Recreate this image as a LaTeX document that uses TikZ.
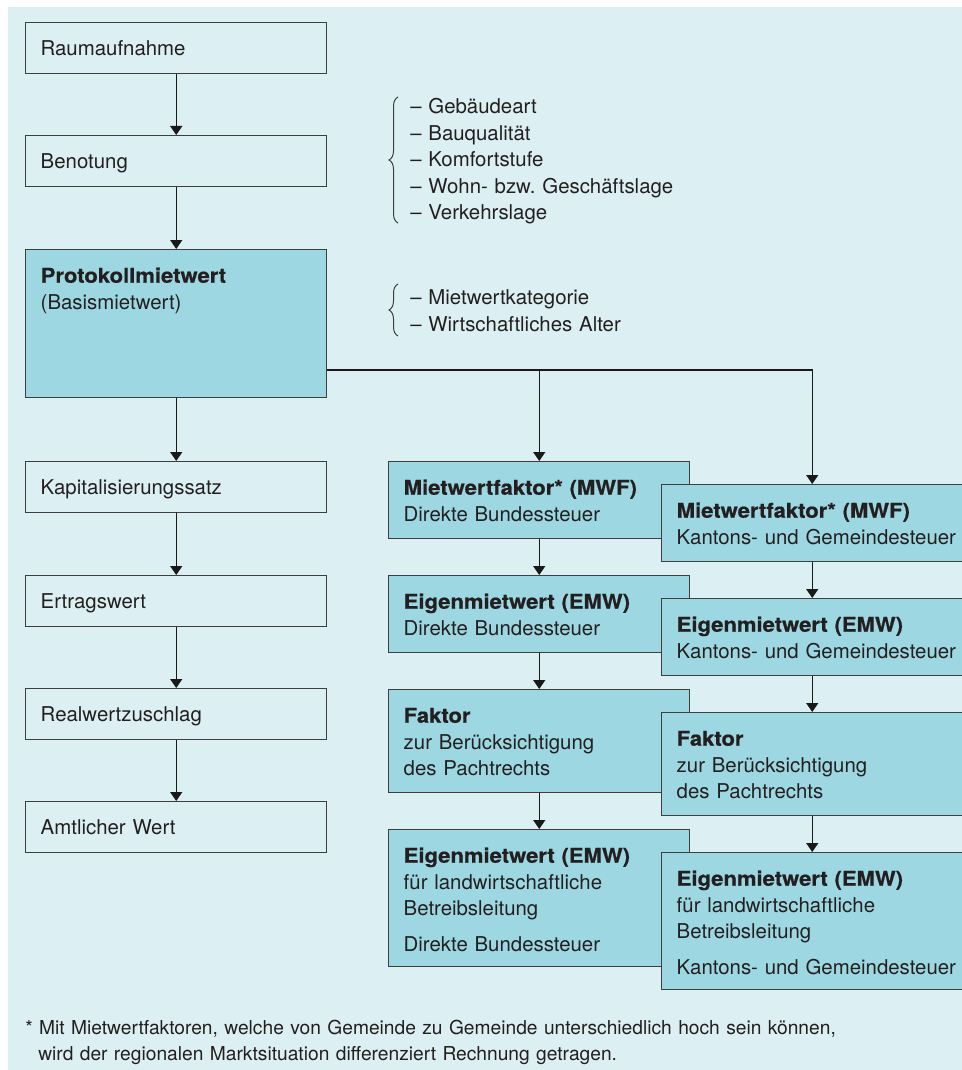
\documentclass[tikz,border=0pt]{standalone}
\usepackage{fontspec}
\setmainfont{TeX Gyre Heros}[BoldFeatures={FakeStretch=1.08, FakeBold=0.6}]
\usepackage{xcolor}
\usetikzlibrary{arrows.meta, positioning, decorations.pathreplacing}
\frenchspacing
\definecolor{bgcyan}{RGB}{220,240,243}
\definecolor{boxteal}{RGB}{157,216,226}
\definecolor{linegray}{RGB}{62,62,62}
\definecolor{txtgray}{RGB}{35,31,32}
\newcommand{\boxfont}{\fontsize{15.3pt}{19.9pt}\selectfont}
\newcommand{\footfont}{\fontsize{14.4pt}{19.5pt}\selectfont}
\tikzset{
  box/.style={draw=linegray, line width=1.1pt, fill=bgcyan, anchor=north west, align=left,
    inner xsep=0pt, inner ysep=0pt, text width=225.75pt, text height=24.75pt, text depth=#1,
    execute at begin node={\leftskip=11.25pt}},
  box/.default=13.5pt,
  hbox/.style={box=#1, fill=boxteal},
  hbox/.default=33pt,
  arrow/.style={-{Triangle[length=6.75pt, width=9pt]}, line width=1.1pt, draw=black!90},
  curly/.style={decorate, decoration={brace, amplitude=6.75pt}, line width=0.75pt, draw=linegray},
  note/.style={anchor=base west, align=left, text width=300pt, inner sep=0pt},
  every node/.style={font=\boxfont, text=txtgray}
}
\begin{document}
\begin{tikzpicture}[x=0.75pt, y=-0.75pt]
    \useasboundingbox (0,0) rectangle (962,1070);
    \fill[bgcyan] (8,7) rectangle (962,1070);
    % left column
    \node[box] (raum) at (25,22) {Raumaufnahme};
    \node[box] (benot) at (25,135) {Benotung};
    \node[hbox=86.25pt] (proto) at (25,249) {\textbf{Protokollmietwert}\\(Basismietwert)};
    \node[box] (kapital) at (25,461) {Kapitalisierungssatz};
    \node[box] (ertrag) at (25,575) {Ertragswert};
    \node[box] (realw) at (25,688) {Realwertzuschlag};
    \node[box] (amtl) at (25,801) {Amtlicher Wert};
    \draw[arrow] (raum) -- (benot);
    \draw[arrow] (benot) -- (proto);
    \draw[arrow] (proto) -- (kapital);
    \draw[arrow] (kapital) -- (ertrag);
    \draw[arrow] (ertrag) -- (realw);
    \draw[arrow] (realw) -- (amtl);
    % criteria
    \draw[curly] (398,223) -- (398,97);
    \node[note] (kriterien) at (410,113.5) {– Gebäudeart\\– Bauqualität\\– Komfortstufe\\– Wohn- bzw. Geschäftslage\\– Verkehrslage};
    \draw[curly] (398,336) -- (398,284);
    \node[note] (kategorie) at (410,304.5) {– Mietwertkategorie\\– Wirtschaftliches Alter};
    % Direkte Bundessteuer
    \node[hbox] (mwfbund) at (388,461) {\textbf{Mietwertfaktor* (MWF)}\\Direkte Bundessteuer};
    \node[hbox] (emwbund) at (388,575) {\textbf{Eigenmietwert (EMW)}\\Direkte Bundessteuer};
    \node[hbox=52.5pt] (fakbund) at (388,689) {\textbf{Faktor}\\zur Berücksichtigung\\des Pachtrechts};
    \node[hbox=78pt] (lwbund) at (388,829) {\textbf{Eigenmietwert (EMW)}\\für landwirtschaftliche\\Betreibsleitung\\[6.75pt]Direkte Bundessteuer};
    % Kantons- und Gemeindesteuer
    \node[hbox] (mwfkant) at (661,484) {\textbf{Mietwertfaktor* (MWF)}\\Kantons- und Gemeindesteuer};
    \node[hbox] (emwkant) at (661,598) {\textbf{Eigenmietwert (EMW)}\\Kantons- und Gemeindesteuer};
    \node[hbox=52.5pt] (fakkant) at (661,712) {\textbf{Faktor}\\zur Berücksichtigung\\des Pachtrechts};
    \node[hbox=78pt] (lwkant) at (661,852) {\textbf{Eigenmietwert (EMW)}\\für landwirtschaftliche\\Betreibsleitung\\[6.75pt]Kantons- und Gemeindesteuer};
    \coordinate (split) at (811,370);
    \draw[arrow] (proto.east |- split) -| (mwfkant.north);
    \draw[arrow] (mwfbund.north |- split) -- (mwfbund.north);
    \draw[arrow] (mwfbund) -- (emwbund);
    \draw[arrow] (emwbund) -- (fakbund);
    \draw[arrow] (fakbund) -- (lwbund);
    \draw[arrow] (mwfkant) -- (emwkant);
    \draw[arrow] (emwkant) -- (fakkant);
    \draw[arrow] (fakkant) -- (lwkant);
    % footnote
    \node[note, text width=700pt, font=\footfont] (fussnote) at (25,1034) {* Mit Mietwertfaktoren, welche von Gemeinde zu Gemeinde unterschiedlich hoch sein können,\\\hspace*{9.75pt}wird der regionalen Marktsituation differenziert Rechnung getragen.};
\end{tikzpicture}
\end{document}
